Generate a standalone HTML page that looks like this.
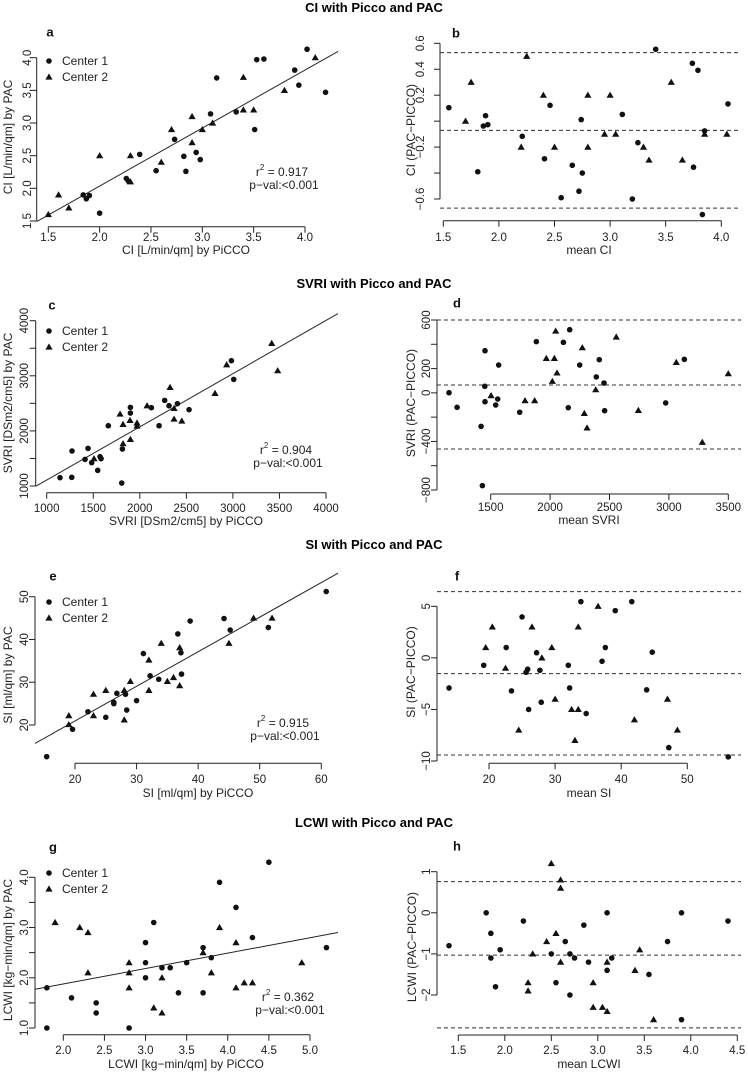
<!DOCTYPE html>
<html><head><meta charset="utf-8"><style>
html,body{margin:0;padding:0;background:#fff;}
svg{display:block;font-family:"Liberation Sans",Arial,sans-serif;}
</style></head><body>
<svg id="fig" width="748" height="1073" viewBox="0 0 748 1073" xmlns="http://www.w3.org/2000/svg">
<text x="374" y="12" font-size="13" font-weight="bold" text-anchor="middle">CI with Picco and PAC</text>
<text x="374" y="288" font-size="13" font-weight="bold" text-anchor="middle">SVRI with Picco and PAC</text>
<text x="374" y="549" font-size="13" font-weight="bold" text-anchor="middle">SI with Picco and PAC</text>
<text x="374" y="827" font-size="13" font-weight="bold" text-anchor="middle">LCWI with Picco and PAC</text>
</svg>
<script>
// ---- Panel a (CI scatter) ----
const aC1X=[4.02,3.53,3.60,3.90,3.94,4.20,3.14,3.08,3.33,3.51,2.73,2.82,2.94,2.98,2.84,2.39,2.55,2.26,2.28,1.84,1.87,1.90,2.00];
const aC1Y=[4.13,3.97,3.98,3.81,3.58,3.47,3.69,3.14,3.17,2.90,2.75,2.49,2.55,2.44,2.26,2.52,2.27,2.15,2.11,1.90,1.84,1.89,1.62];
const aC2X=[4.10,3.80,3.40,3.40,3.50,3.10,3.00,2.90,2.70,2.90,2.60,2.30,2.00,2.30,1.60,1.70,1.50];
const aC2Y=[4.0,3.5,3.7,3.2,3.2,3.0,2.9,3.1,2.9,2.7,2.4,2.5,2.5,2.1,1.9,1.7,1.6];
const aReg=[0.888,0.259];
const aXTicks=["1.5","2.0","2.5","3.0","3.5","4.0"];
const aYTicks=["1.5","2.0","2.5","3.0","3.5","4.0"];
// ---- Panel b (CI Bland-Altman) ----
const bC1X=[1.55,1.88,1.86,1.90,1.81,2.21,2.46,2.41,2.74,2.66,2.75,2.72,2.56,3.11,3.25,3.20,3.41,3.74,3.79,3.75,3.85,3.83,4.06];
const bC1Y=[0.104,0.042,-0.038,-0.027,-0.39,-0.117,0.122,-0.29,0.012,-0.34,-0.40,-0.54,-0.59,0.052,-0.166,-0.60,0.554,0.446,0.392,-0.355,-0.075,-0.72,0.133];
const bC2X=[1.75,1.70,2.25,2.2,2.4,2.5,2.8,2.8,2.95,3.0,3.05,3.3,3.35,3.55,3.65,3.85,4.05];
const bC2Y=[0.3,0.0,0.5,-0.2,0.2,-0.2,0.2,-0.2,-0.1,0.2,-0.1,-0.2,-0.3,0.3,-0.3,-0.1,-0.1];
const bLines=[0.528,-0.071,-0.67];
const bXTicks=["1.5","2.0","2.5","3.0","3.5","4.0"];
const bYTicks=["-0.6","-0.4","-0.2","0.0","0.2","0.4","0.6"];
const bYLabels=["0.6","0.4","0.2","-0.2","-0.6"];
// ---- Panel c (SVRI scatter) ----
const cC1X=[1143,1269,1272,1444,1412,1483,1548,1573,1584,1662,1806,1813,1899,1899,2124,2207,2267,2314,2404,2529,2984,3009];
const cC1Y=[1151,1157,1635,1683,1483,1423,1284,1532,1496,2094,1054,1671,2427,2324,2421,2094,2554,2457,2494,2385,3274,2935];
const cC2X=[1788,1820,1820,1895,1899,1970,1970,2078,2325,2368,2368,2451,2808,2933,3417,3481,1508];
const cC2Y=[2306,2119,1768,2191,1846,2143,2088,2457,2790,2409,2215,2179,2681,3201,3589,3093,1496];
const cReg=[0.9656,142];
const cXTicks=["1000","1500","2000","2500","3000","3500","4000"];
const cYTicks=["1000","1500","2000","2500","3000","3500","4000"];
const cYLabels=["1000","2000","3000","4000"];
// ---- Panel d (SVRI Bland-Altman) ----
const dC1X=[1149,1217,1452,1450,1452,1419,1430,1542,1559,1567,1744,1884,2112,2165,2153,2249,2414,2389,2454,2459,2973,3130];
const dC1Y=[1,-119,347,54,-73,-276,-764,-100,-51,229,-160,422,416,520,-122,229,273,131,81,-147,-83,276];
const dC2X=[1503,1789,1870,1968,2036,2047,2058,2019,2271,2288,2311,2384,2557,2743,3062,3281,3500];
const dC2Y=[-23,-64,-64,284,284,509,164,95,372,-169,-289,26,460,-144,251,-407,158];
const dLines=[600,65,-462];
const dXTicks=["1500","2000","2500","3000","3500"];
const dYTicks=["-800","-600","-400","-200","0","200","400","600"];
const dYLabels=["600","200","0","-400","-800"];
// ---- Panel e (SI scatter) ----
const eC1X=[15.4,19.6,22.1,25.0,26.3,26.3,26.8,28.2,28.4,30.0,31.1,32.2,33.6,36.7,37.2,37.3,38.7,44.2,45.2,51.4,60.8];
const eC1Y=[12.6,19.0,23.1,21.8,25.0,25.3,27.4,27.2,23.5,25.7,36.7,31.5,30.7,41.3,36.9,31.9,44.3,44.9,42.2,42.8,51.2];
const eC2X=[19,19,23,23,25,28,28,29,32,32,34,35,36,37,37,45,49,52];
const eC2Y=[22.2,20.1,27.2,22.2,28.1,28.1,21.2,30.2,35.2,28.1,39.1,30.2,31.1,38.1,29.2,39.1,45.0,45.0];
const eReg=[0.8087,4.78];
const eXTicks=["20","30","40","50","60"];
const eYTicks=["20","30","40","50"];
// ---- Panel f (SI Bland-Altman) ----
const fC1X=[13.95,19.2,22.6,23.4,25.0,25.6,25.85,26.0,27.2,27.7,27.9,32.0,32.2,33.9,34.7,37.1,37.6,39.1,41.6,43.85,44.7,47.2,56.2];
const fC1Y=[-2.92,-0.72,1.0,-3.2,3.97,-1.4,-1.1,-5.0,0.5,-1.2,-4.3,-0.72,-2.92,5.45,-5.4,-0.33,1.0,4.58,5.45,-3.1,0.55,-8.7,-9.6];
const fC2X=[19.5,20.5,22.5,24.5,26.5,28,29.5,30,32.5,33.5,33.5,33,36.5,42,47,48.5];
const fC2Y=[1.0,3.0,-1.0,-7.0,3.0,0,1.0,-4.0,-5,-5,3.0,-8,5,-6,-4,-7];
const fLines=[6.42,-1.53,-9.42];
const fXTicks=["20","30","40","50"];
const fYTicks=["-10","-5","0","5"];
// ---- Panel g (LCWI scatter) ----
const gC1X=[1.8,1.8,2.1,2.4,2.4,2.8,3.0,3.0,3.0,3.1,3.2,3.3,3.4,3.5,3.7,3.7,3.8,3.9,4.1,4.3,4.5,5.2];
const gC1Y=[1.8,1.0,1.6,1.5,1.3,1.0,2.7,2.3,2.0,3.1,2.2,2.2,1.7,2.3,2.6,1.7,2.4,3.9,3.4,2.8,4.3,2.6];
const gC2X=[1.9,2.2,2.3,2.3,2.8,2.8,2.8,3.1,3.2,3.2,3.7,3.8,3.9,4.1,4.1,4.2,4.3,4.9];
const gC2Y=[3.1,3.0,2.9,2.1,2.3,2.1,1.8,1.4,2.0,1.3,2.5,2.1,3.0,2.7,1.8,1.9,1.9,2.3];
const gReg=[0.307,1.262];
const gXTicks=["2.0","2.5","3.0","3.5","4.0","4.5","5.0"];
const gYTicks=["1.0","1.5","2.0","2.5","3.0","3.5","4.0"];
const gYLabels=["1.0","2.0","3.0","4.0"];
// ---- Panel h (LCWI Bland-Altman) ----
const hC1X=[1.4,1.8,1.85,1.85,1.95,1.9,2.2,2.5,2.55,2.65,2.7,2.75,2.7,2.85,2.9,3.1,3.1,3.15,3.55,3.75,3.9,3.9,4.4];
const hC1Y=[-0.8,0,-0.5,-1.1,-0.9,-1.8,-0.2,-1.0,-1.7,-0.7,-1.0,-1.1,-2.0,-0.3,-1.2,0,-1.4,-1.1,-1.5,-0.7,0,-2.6,-0.2];
const hC2X=[2.5,2.6,2.6,2.3,2.45,2.55,2.6,2.25,2.25,2.95,2.95,3.05,3.1,3.1,3.4,3.45,3.6];
const hC2Y=[1.2,0.8,0.6,-1.0,-0.7,-0.5,-1.2,-1.7,-1.9,-1.7,-2.3,-2.3,-1.2,-2.4,-1.4,-0.9,-2.6];
const hLines=[0.757,-1.03,-2.80];
const hXTicks=["1.5","2.0","2.5","3.0","3.5","4.0","4.5"];
const hYTicks=["-2","-1","0","1"];

const NS="http://www.w3.org/2000/svg";
const svg=document.getElementById('fig');
function mk(tag,attrs,parent){const e=document.createElementNS(NS,tag);for(const k in attrs)e.setAttribute(k,attrs[k]);(parent||svg).appendChild(e);return e;}
function txt(s,attrs,parent){const e=mk('text',attrs,parent);e.textContent=s;return e;}

function panel(p){
  const g=mk('g',{});
  
  
  const sx=v=>p.xp[0]+(v-p.xv[0])*(p.xp[1]-p.xp[0])/(p.xv[1]-p.xv[0]);
  const sy=v=>p.yp[0]+(v-p.yv[0])*(p.yp[1]-p.yp[0])/(p.yv[1]-p.yv[0]);
  // axes
  const xt=p.xticks.map(Number), yt=p.yticks.map(Number);
  const xa=mk('line',{x1:sx(xt[0]),x2:sx(xt[xt.length-1]),y1:p.axisY,y2:p.axisY,stroke:'#222','stroke-width':1},g);
  
  
  p.xticks.forEach(t=>{const v=Number(t);
    mk('line',{x1:sx(v),x2:sx(v),y1:p.axisY,y2:p.axisY+6,stroke:'#222'},g);
    const l=txt(t.replace('-','\u2212'),{x:sx(v),y:p.tickY,'font-size':11.5,'text-anchor':'middle','dominant-baseline':'central',fill:'#222'},g);
    
    
  });
  const ya=mk('line',{x1:p.axisX,x2:p.axisX,y1:sy(yt[0]),y2:sy(yt[yt.length-1]),stroke:'#222','stroke-width':1},g);
  
  
  p.yticks.forEach(t=>{const v=Number(t);
    mk('line',{x1:p.axisX-6,x2:p.axisX,y1:sy(v),y2:sy(v),stroke:'#222'},g);
  });
  (p.ylabels||p.yticks).forEach(t=>{const v=Number(t);
    const l=txt(t.replace('-','\u2212'),{x:p.ylabX,y:sy(v),'font-size':11.5,'text-anchor':'middle','dominant-baseline':'central',fill:'#222',transform:`rotate(-90 ${p.ylabX} ${sy(v)})`},g);
    
    
  });
  const xtl=txt(p.xtitle,{x:p.xtitleX,y:p.xtitleY,'font-size':12,'text-anchor':'middle','dominant-baseline':'central',fill:'#222'},g);
  
  
  const ytl=txt(p.ytitle,{x:p.ytitleX,y:p.ytitleY,'font-size':12,'text-anchor':'middle','dominant-baseline':'central',fill:'#222',transform:`rotate(-90 ${p.ytitleX} ${p.ytitleY})`},g);
  
  
  const lt=txt(p.letter,{x:p.letterXY[0],y:p.letterXY[1],'font-size':13,'font-weight':'bold','text-anchor':'middle','dominant-baseline':'central',fill:'#111'},g);
  
  
  // regression or reference lines
  if(p.reg){
    const cid='clip'+p.letter;
    const cp=mk('clipPath',{id:cid},g);
    mk('rect',{x:p.clip[0],y:p.clip[1],width:p.clip[2]-p.clip[0],height:p.clip[3]-p.clip[1]},cp);
    const x0=p.xv[0]+(p.clip[0]-p.xp[0])*(p.xv[1]-p.xv[0])/(p.xp[1]-p.xp[0]);
    const x1=p.xv[0]+(p.clip[2]-p.xp[0])*(p.xv[1]-p.xv[0])/(p.xp[1]-p.xp[0]);
    const rl=mk('line',{x1:sx(x0),y1:sy(p.reg[0]*x0+p.reg[1]),x2:sx(x1),y2:sy(p.reg[0]*x1+p.reg[1]),stroke:'#222','stroke-width':1,'clip-path':`url(#${cid})`},g);
    
    
    // legend
    mk('circle',{cx:p.leg[0],cy:p.leg[1],r:2.8,fill:'#111'},g);
    const l1=txt('Center 1',{x:p.leg[0]+13,y:p.leg[1],'font-size':12,'dominant-baseline':'central',fill:'#222'},g);
    
    
    const ty=p.leg[1]+16;
    mk('polygon',{points:`${p.leg[0]},${ty-3.6} ${p.leg[0]-3.6},${ty+2.6} ${p.leg[0]+3.6},${ty+2.6}`,fill:'#111'},g);
    const l2=txt('Center 2',{x:p.leg[0]+13,y:ty,'font-size':12,'dominant-baseline':'central',fill:'#222'},g);
    
    
    const r2=mk('text',{x:p.stat[0],y:p.stat[1],'font-size':12,'text-anchor':'middle','dominant-baseline':'central',fill:'#222'},g);
    r2.innerHTML=`r<tspan dy="-5" font-size="8">2</tspan><tspan dy="5"> = ${p.r2}</tspan>`;
    
    
    const pv=txt('p\u2212val:<0.001',{x:p.stat[0]+2,y:p.stat[1]+13,'font-size':12,'text-anchor':'middle','dominant-baseline':'central',fill:'#222'},g);
    
    
  } else {
    p.lines.forEach(v=>{
      const dl=mk('line',{x1:p.axisX,x2:741,y1:sy(v),y2:sy(v),stroke:'#333','stroke-width':1,'stroke-dasharray':'4,3'},g);
      
      
    });
  }
  // points
  p.c1x.forEach((v,i)=>{
    const c=mk('circle',{cx:sx(v),cy:sy(p.c1y[i]),r:2.8,fill:'#111'},g);
    
    
  });
  p.c2x.forEach((v,i)=>{
    const X=sx(v),Y=sy(p.c2y[i]);
    const t=mk('polygon',{points:`${X},${Y-3.6} ${X-3.6},${Y+2.6} ${X+3.6},${Y+2.6}`,fill:'#111'},g);
    
    
  });
}

panel({name:'panel-a-ci-scatter',letter:'a',letterXY:[50,32],xv:[1.5,4.0],xp:[48.3,305],yv:[4.0,1.5],yp:[57.7,221],axisX:36.7,axisY:226.7,
  xticks:aXTicks,yticks:aYTicks,tickY:238,ylabX:28,xtitle:'CI [L/min/qm] by PiCCO',xtitleX:186,xtitleY:250,ytitle:'CI [L/min/qm] by PAC',ytitleX:8,ytitleY:137,
  c1x:aC1X,c1y:aC1Y,c2x:aC2X,c2y:aC2Y,reg:aReg,clip:[36.7,45,338,227],leg:[49,61],stat:[282,172],r2:'0.917'});
panel({name:'panel-b-ci-bland-altman',letter:'b',letterXY:[456,33],xv:[1.5,4.0],xp:[443.3,721.3],yv:[0.6,-0.6],yp:[43.3,199],axisX:440,axisY:220.7,
  xticks:bXTicks,yticks:bYTicks,ylabels:bYLabels,tickY:238,ylabX:421,xtitle:'mean CI',xtitleX:589,xtitleY:250,ytitle:'CI (PAC\u2212PICCO)',ytitleX:411,ytitleY:130,
  c1x:bC1X,c1y:bC1Y,c2x:bC2X,c2y:bC2Y,lines:bLines});
panel({name:'panel-c-svri-scatter',letter:'c',letterXY:[52,305],xv:[1000,4000],xp:[46.7,326],yv:[4000,1000],yp:[320.7,486],axisX:35.7,axisY:492.7,
  xticks:cXTicks,yticks:cYTicks,ylabels:cYLabels,tickY:509,ylabX:25,xtitle:'SVRI [DSm2/cm5] by PiCCO',xtitleX:186,xtitleY:521,ytitle:'SVRI [DSm2/cm5] by PAC',ytitleX:8,ytitleY:403,
  c1x:cC1X,c1y:cC1Y,c2x:cC2X,c2y:cC2Y,reg:cReg,clip:[35.7,310,338,493],leg:[49,331],stat:[286,450],r2:'0.904'});
panel({name:'panel-d-svri-bland-altman',letter:'d',letterXY:[457,303],xv:[1500,3500],xp:[490.7,728.3],yv:[600,-800],yp:[320,490],axisX:437,axisY:494,
  xticks:dXTicks,yticks:dYTicks,ylabels:dYLabels,tickY:508,ylabX:427,xtitle:'mean SVRI',xtitleX:589,xtitleY:520,ytitle:'SVRI (PAC\u2212PICCO)',ytitleX:411,ytitleY:403,
  c1x:dC1X,c1y:dC1Y,c2x:dC2X,c2y:dC2Y,lines:dLines});
panel({name:'panel-e-si-scatter',letter:'e',letterXY:[53,576],xv:[20,60],xp:[75,321.3],yv:[50,20],yp:[596.7,725],axisX:35,axisY:763.3,
  xticks:eXTicks,yticks:eYTicks,tickY:780,ylabX:25,xtitle:'SI [ml/qm] by PiCCO',xtitleX:198,xtitleY:793,ytitle:'SI [ml/qm] by PAC',ytitleX:8,ytitleY:675,
  c1x:eC1X,c1y:eC1Y,c2x:eC2X,c2y:eC2Y,reg:eReg,clip:[35,570,338,763],leg:[49,602],stat:[283,723],r2:'0.915'});
panel({name:'panel-f-si-bland-altman',letter:'f',letterXY:[457,576],xv:[20,50],xp:[489,687.3],yv:[5,-10],yp:[606.3,761],axisX:437,axisY:763.3,
  xticks:fXTicks,yticks:fYTicks,tickY:780,ylabX:427,xtitle:'mean SI',xtitleX:589,xtitleY:793,ytitle:'SI (PAC\u2212PICCO)',ytitleX:411,ytitleY:672,
  c1x:fC1X,c1y:fC1Y,c2x:fC2X,c2y:fC2Y,lines:fLines});
panel({name:'panel-g-lcwi-scatter',letter:'g',letterXY:[53,847],xv:[2,5],xp:[63.3,310],yv:[4,1],yp:[877.3,1028],axisX:35,axisY:1034.7,
  xticks:gXTicks,yticks:gYTicks,ylabels:gYLabels,tickY:1051,ylabX:25,xtitle:'LCWI [kg\u2212min/qm] by PiCCO',xtitleX:186,xtitleY:1064,ytitle:'LCWI [kg\u2212min/qm] by PAC',ytitleX:8,ytitleY:950,
  c1x:gC1X,c1y:gC1Y,c2x:gC2X,c2y:gC2Y,reg:gReg,clip:[35,845,338,1035],leg:[49,873],stat:[288,997],r2:'0.362'});
panel({name:'panel-h-lcwi-bland-altman',letter:'h',letterXY:[457,846],xv:[1.5,4.5],xp:[458.3,737.3],yv:[1,-2],yp:[871.7,995],axisX:437,axisY:1035,
  xticks:hXTicks,yticks:hYTicks,tickY:1051,ylabX:427,xtitle:'mean LCWI',xtitleX:589,xtitleY:1064,ytitle:'LCWI (PAC\u2212PICCO)',ytitleX:412,ytitleY:947,
  c1x:hC1X,c1y:hC1Y,c2x:hC2X,c2y:hC2Y,lines:hLines});
</script>
</body></html>
